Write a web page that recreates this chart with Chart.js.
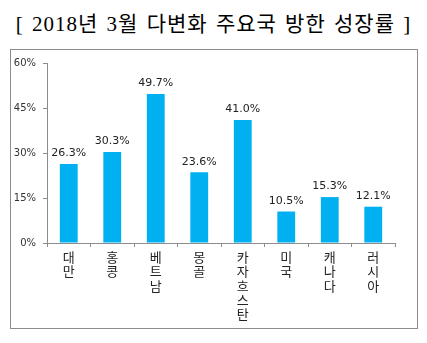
<!DOCTYPE html>
<html>
<head>
<meta charset="utf-8">
<script src="https://cdn.jsdelivr.net/npm/chart.js@4"></script>
<style>
  body { margin: 0; background: #fff; width: 427px; height: 343px; position: relative; overflow: hidden; }
  #title {
    position: absolute; left: 0; top: 7px; width: 427px; text-align: center;
    font-family: "Liberation Serif", "Noto Sans CJK KR", serif; font-size: 21px; color: #000;
    white-space: nowrap; letter-spacing: 1px; word-spacing: 2px;
  }
  #box {
    position: absolute; left: 10px; top: 49px; width: 406px; height: 278px;
    border: 1px solid #8c8c8c;
  }
</style>
</head>
<body>
<div id="title">[ 2018년 3월 다변화 주요국 방한 성장률 ]</div>
<div id="box"><canvas id="chart" width="406" height="278"></canvas></div>
<script>
// categories (written top to bottom in the picture)
const countries = ['대만', '홍콩', '베트남', '몽골', '카자흐스탄', '미국', '캐나다', '러시아'];
// growth rate, %
const growth = [26.3, 30.3, 49.7, 23.6, 41.0, 10.5, 15.3, 12.1];
const yTicks = [0, 15, 30, 45, 60];

const axisGray = '#8c8c8c';

// put each label on a stack, one char per line
const stacked = countries.map(c => c.split(''));

// value labels above bars
const valueLabels = {
  id: 'valueLabels',
  afterDatasetsDraw(chart) {
    const ctx = chart.ctx;
    const meta = chart.getDatasetMeta(0);
    ctx.save();
    ctx.font = '11px "DejaVu Sans", "Noto Sans", sans-serif';
    ctx.fillStyle = '#222';
    ctx.textAlign = 'center';
    ctx.textBaseline = 'bottom';
    meta.data.forEach((bar, i) => {
      ctx.fillText(growth[i].toFixed(1) + '%', bar.x, bar.y - 5);
    });
    ctx.restore();
  }
};

new Chart(document.getElementById('chart'), {
  type: 'bar',
  data: {
    labels: stacked,
    datasets: [{
      data: growth,
      backgroundColor: '#00b0f0',
      borderWidth: 0,
      barPercentage: 0.41,
      categoryPercentage: 1.0
    }]
  },
  options: {
    responsive: false,
    animation: false,
    layout: { padding: { top: 12, right: 22, left: 0, bottom: 0 } },
    plugins: { legend: { display: false }, tooltip: { enabled: false } },
    scales: {
      x: {
        afterFit: s => { s.height = 85; },
        grid: { drawOnChartArea: false, tickLength: 4, color: axisGray, offset: true },
        border: { color: axisGray },
        ticks: {
          maxRotation: 0, autoSkip: false, padding: 3,
          color: '#222',
          font: { family: '"Noto Sans CJK KR", sans-serif', size: 13, lineHeight: 1.1 }
        }
      },
      y: {
        min: 0, max: 60,
        afterFit: s => { s.width = 36; },
        afterBuildTicks: s => { s.ticks = yTicks.map(v => ({ value: v })); },
        grid: { drawOnChartArea: false, tickLength: 4, color: axisGray },
        border: { color: axisGray },
        ticks: {
          padding: 7,
          color: '#333',
          font: { family: '"DejaVu Sans", "Noto Sans", sans-serif', size: 10 },
          callback: v => v + '%'
        }
      }
    }
  },
  plugins: [valueLabels]
});
</script>
</body>
</html>
